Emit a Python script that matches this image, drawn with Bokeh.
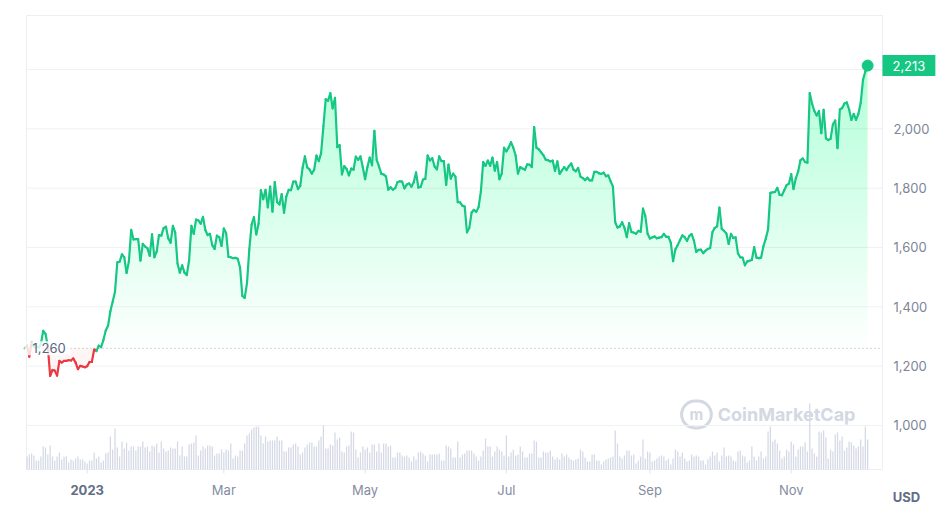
import numpy as np
import pandas as pd
from bokeh.plotting import figure
from bokeh.models import Range1d, Label
from bokeh.embed import file_html
from bokeh.resources import INLINE

# ---------------- data ----------------
start_date = "2022-12-05"
volume_start_date = "2022-12-06"
base_price = 1260

price_dec22 = [1260, 1270, 1232, 1281, 1265, 1266, 1264, 1274, 1319, 1309, 1266, 1167, 1187, 1185,
               1168, 1218, 1212, 1218, 1218, 1220, 1219, 1226, 1212, 1190, 1201, 1199, 1196]
price_jan = [1200, 1214, 1214, 1256, 1251, 1269, 1264, 1288, 1320, 1336, 1385, 1417, 1451, 1550, 1552,
             1577, 1567, 1514, 1553, 1659, 1627, 1628, 1628, 1556, 1612, 1603, 1598, 1572, 1644, 1567, 1586]
price_feb = [1642, 1640, 1665, 1670, 1631, 1616, 1673, 1650, 1546, 1515, 1540, 1515, 1507, 1557,
             1673, 1646, 1694, 1691, 1680, 1703, 1659, 1642, 1646, 1608, 1595, 1640, 1635, 1605]
price_mar = [1664, 1648, 1568, 1567, 1564, 1565, 1562, 1533, 1437, 1430, 1480, 1594, 1677, 1702, 1644,
             1680, 1793, 1763, 1794, 1735, 1805, 1721, 1820, 1753, 1745, 1780, 1717, 1772, 1794, 1793, 1822]
price_apr = [1822, 1797, 1808, 1868, 1907, 1870, 1863, 1849, 1862, 1910, 1891, 1918, 2008, 2100, 2094,
             2120, 2069, 2104, 1938, 1945, 1846, 1874, 1865, 1843, 1866, 1862, 1906, 1895, 1907, 1871]
price_may = [1830, 1871, 1903, 1877, 1993, 1895, 1873, 1848, 1846, 1840, 1795, 1803, 1795, 1800, 1820,
             1823, 1822, 1799, 1812, 1816, 1805, 1820, 1853, 1802, 1804, 1829, 1831, 1910, 1893, 1901, 1873]
price_jun = [1863, 1907, 1891, 1891, 1811, 1879, 1832, 1849, 1839, 1753, 1752, 1741, 1738, 1651, 1666,
             1718, 1727, 1720, 1736, 1789, 1888, 1875, 1893, 1875, 1903, 1859, 1888, 1830, 1849, 1936]
price_jul = [1924, 1937, 1955, 1936, 1910, 1849, 1871, 1866, 1862, 1880, 1879, 1871, 2006, 1936, 1931,
             1921, 1911, 1896, 1894, 1890, 1893, 1858, 1890, 1848, 1860, 1871, 1861, 1874, 1883, 1862, 1857]
price_aug = [1868, 1839, 1834, 1827, 1835, 1826, 1826, 1855, 1855, 1850, 1848, 1852, 1840, 1843, 1823,
             1806, 1685, 1667, 1671, 1685, 1666, 1635, 1682, 1652, 1650, 1646, 1656, 1653, 1731, 1706, 1646]
price_sep = [1630, 1634, 1637, 1631, 1633, 1635, 1646, 1636, 1636, 1616, 1554, 1594, 1608, 1625, 1641,
             1635, 1622, 1639, 1645, 1623, 1585, 1592, 1593, 1581, 1589, 1595, 1598, 1652, 1666, 1671]
price_oct = [1734, 1663, 1656, 1647, 1612, 1646, 1632, 1634, 1580, 1567, 1566, 1540, 1553, 1555, 1558,
             1601, 1566, 1564, 1566, 1604, 1629, 1661, 1784, 1786, 1787, 1801, 1777, 1776, 1793, 1810, 1815]
price_nov = [1847, 1797, 1833, 1856, 1894, 1900, 1888, 1886, 2120, 2085, 2060, 2045, 2060, 1985, 2064,
             1968, 1962, 1966, 2015, 2028, 1935, 2065, 2070, 2085, 2089, 2065, 2030, 2050, 2030, 2050]
price_dec23 = [2087, 2165, 2193, 2213]

# daily volume from 2022-12-06 (relative units, read as bar heights)
volume = [
    13, 15, 16, 14, 9, 9, 13, 23, 22, 15, 24, 13, 9, 13, 17, 10, 13, 13, 7, 10, 9, 11, 13, 10, 10, 8, 6, 9, 9, 17,
    11, 13, 7, 9, 16, 17, 33, 20, 41, 22, 13, 28, 21, 27, 19, 23, 23, 19, 23, 23, 28, 22, 23, 18, 24, 23, 26, 17, 28, 21,
    18, 19, 22, 21, 21, 28, 14, 23, 13, 13, 25, 26, 27, 34, 14, 19, 23, 21, 24, 24, 23, 14, 16, 16, 20, 17, 20, 19, 26, 11,
    14, 13, 19, 19, 26, 34, 36, 40, 42, 43, 43, 34, 26, 33, 28, 29, 29, 29, 33, 29, 29, 18, 18, 22, 22, 25, 26, 23, 15, 17,
    22, 25, 27, 27, 23,
    23, 29, 33, 44, 21, 21, 25, 24, 37, 30, 32, 18, 17, 23, 24, 38, 37, 20, 12, 17, 23, 20, 22, 17, 25, 25, 18, 26, 17, 26,
    26, 23, 24, 12, 12, 17, 17, 14, 13, 14, 12, 8, 13, 10, 17, 18, 16, 14, 8, 15,
    15, 15, 15, 16, 9, 9, 24, 23, 21, 12, 12, 28, 12, 15, 16, 19, 19, 19, 16, 13, 9, 13, 19, 31, 23, 23, 13, 18, 23, 20,
    18, 14, 34, 13, 17, 20, 14, 15, 23, 18, 12, 12, 16,
    16, 29, 28, 12, 12, 18, 17, 17, 19, 13, 10, 12, 10, 16, 13, 15, 12, 10, 9, 10, 11, 20, 18, 12,
    8, 8, 15, 15, 9, 9, 5, 8, 10,
    11, 12, 13, 39, 26, 13, 11, 14, 19, 19, 14, 15, 6, 9, 13, 30, 11, 18, 17, 8, 9, 11, 13, 14, 13, 9, 11, 5, 11, 20,
    18, 13, 17, 11, 8, 9, 15, 13, 14, 13, 9, 9, 5, 10, 13, 18, 14, 17, 8, 14, 22, 13, 14, 13, 9, 8, 18, 19, 14, 13,
    7, 9, 23, 13, 9, 13, 18, 11, 13, 38, 43, 28, 30, 26, 19, 11, 13, 20, 18, 28, 25, 13, 20, 23, 23, 27, 18,
    66,
    21, 16, 13, 38, 37, 39, 32, 11, 20, 18, 35, 37, 29, 33, 19, 22, 28, 27, 24, 21, 23, 30, 23, 43, 30]

y_ticks = [1000, 1200, 1400, 1600, 1800, 2000]
y_tick_labels = ["1,000", "1,200", "1,400", "1,600", "1,800", "2,000"]
grid_levels = [1000, 1200, 1400, 1600, 1800, 2000, 2200]
x_tick_dates = ["2023-01-01", "2023-03-01", "2023-05-01", "2023-07-01", "2023-09-01", "2023-11-01"]
x_tick_labels = ["2023", "Mar", "May", "Jul", "Sep", "Nov"]
last_label = "2,213"
base_label = "1,260"
currency = "USD"

# ---------------- build ----------------
price = np.array(price_dec22 + price_jan + price_feb + price_mar + price_apr + price_may + price_jun +
                 price_jul + price_aug + price_sep + price_oct + price_nov + price_dec23, dtype=float)
dates = pd.date_range(start_date, periods=len(price), freq="D")
vdates = pd.date_range(volume_start_date, periods=len(volume), freq="D")

GREEN = "#16c784"
RED = "#ea3943"
FONT = "Inter"
GRID = "#eff1f4"

jan1 = pd.Timestamp("2023-01-01")
day = pd.Timedelta(days=1)


def ms(t):
    return pd.Timestamp(t).value / 1e6


# full canvas ranges; chart box inside
X0, X1 = jan1 - 37.44 * day, jan1 + 366.74 * day
Y0, Y1 = 713.5, 2432.4
box_left, box_right = jan1 - 26.2 * day, jan1 + 343.4 * day
box_bottom, box_top = 851.7, 2381.9

p = figure(width=936, height=510, output_backend="svg", toolbar_location=None,
           x_range=Range1d(X0, X1), y_range=Range1d(Y0, Y1),
           x_axis_location=None, y_axis_location=None, min_border=0,
           background_fill_color="white", border_fill_color="white")
p.outline_line_color = None
p.grid.visible = False

# volume on its own scale (1 unit = 1 px, 0 at the chart bottom)
p.extra_y_ranges = {"vol": Range1d(-41, 469)}

# grid lines
p.segment(x0=[ms(box_left)] * len(grid_levels), x1=[ms(box_right)] * len(grid_levels),
          y0=grid_levels, y1=grid_levels, line_color=GRID, line_width=1)

# chart box
p.quad(left=[ms(box_left)], right=[ms(box_right)], bottom=[box_bottom], top=[box_top],
       fill_alpha=0, line_color="#eceef4", line_width=1)

# x ticks
tick_x = [ms(d) for d in x_tick_dates]
p.segment(x0=tick_x, x1=tick_x, y0=[box_bottom] * len(tick_x), y1=[box_bottom - 13] * len(tick_x),
          line_color="#dfe3ea", line_width=1)

# volume bars
p.vbar(x=vdates, top=volume, width=pd.Timedelta(hours=13), y_range_name="vol",
       fill_color="#d4d9e5", line_color=None)

# gradient fill (stacked translucent layers above the base price)
for lvl in np.arange(base_price, 2400, 25):
    p.varea(x=dates, y1=lvl, y2=np.maximum(price, lvl), fill_color=GREEN, fill_alpha=0.0078)
p.varea(x=dates, y1=np.minimum(price, base_price), y2=base_price, fill_color=RED, fill_alpha=0.05)

# baseline dotted
p.segment(x0=[ms(box_left)], x1=[ms(box_right)], y0=[base_price], y1=[base_price],
          line_color="#a3abbb", line_dash="1 3", line_width=1)

# price line coloured by side of baseline
mid = (price[:-1] + price[1:]) / 2
colors = [GREEN if m >= base_price else RED for m in mid]
p.segment(x0=dates[:-1], y0=price[:-1], x1=dates[1:], y1=price[1:], line_color=colors,
          line_width=2.2, line_cap="round", line_join="round")
p.scatter(x=dates[-1:], y=price[-1:], size=11, fill_color=GREEN, line_color=GREEN)

# y tick labels
for v, lab in zip(y_ticks, y_tick_labels):
    p.add_layout(Label(x=box_right, y=v, x_offset=11, text=lab, text_align="left",
                       text_baseline="middle", text_font=FONT, text_font_size="13px",
                       text_color="#7d8597"))

# x tick labels
for d, lab in zip(x_tick_dates, x_tick_labels):
    bold = lab == "2023"
    p.add_layout(Label(x=pd.Timestamp(d), y=box_bottom, y_offset=-21, text=lab, text_align="center",
                       text_baseline="middle", text_font=FONT, text_font_size="13px",
                       text_font_style="bold" if bold else "normal",
                       text_color="#616e85" if bold else "#858ca2"))

p.add_layout(Label(x=box_right, y=box_bottom, x_offset=24, y_offset=-28, text=currency,
                   text_align="center", text_baseline="middle", text_font=FONT, text_font_size="13px",
                   text_font_style="bold", text_color="#616e85"))

p.add_layout(Label(x=box_left, y=base_price, x_offset=-2, text=base_label, text_align="left",
                   text_baseline="middle", text_font=FONT, text_font_size="13px", text_color="#58667e",
                   background_fill_color="white", background_fill_alpha=0.82,
                   padding=dict(left=8, right=5, top=2, bottom=2)))

p.add_layout(Label(x=box_right, y=price[-1], x_offset=0, text=last_label, text_align="left",
                   text_baseline="middle", text_font=FONT, text_font_size="13px", text_color="white",
                   background_fill_color=GREEN, padding=dict(left=10, right=10, top=6, bottom=5)))

# watermark
p.add_layout(Label(x=box_right, y=box_bottom, x_offset=-27, y_offset=55, text="CoinMarketCap",
                   text_align="right", text_baseline="middle", text_font=FONT, text_font_size="18px",
                   text_font_style="bold", text_color="#d3d8e2", level="underlay"))
p.add_layout(Label(x=box_right, y=box_bottom, x_offset=-186, y_offset=55, text="m",
                   text_align="center", text_baseline="middle", text_font=FONT, text_font_size="15px",
                   text_font_style="bold", text_color="#d3d8e2", level="underlay",
                   border_line_color="#d3d8e2", border_line_width=3, border_radius=14,
                   padding=dict(left=8, right=8, top=4, bottom=4)))

open("out.html", "w").write(file_html(p, INLINE))
